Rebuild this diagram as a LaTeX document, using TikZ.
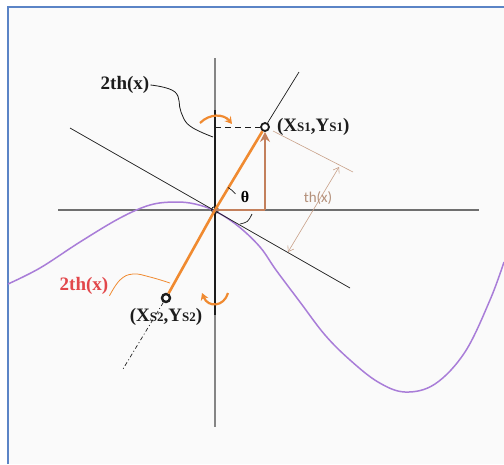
\documentclass[tikz,border=0pt]{standalone}
\usepackage{fontspec}
\setmainfont{Liberation Serif}
\newfontfamily\thfont{Carlito}
\usetikzlibrary{arrows.meta, positioning, calc}
\definecolor{SMframe}{HTML}{5B84C6}
\definecolor{SMpaper}{HTML}{FAFAFA}
\definecolor{SMaxis}{HTML}{6F6F6F}
\definecolor{SMink}{HTML}{1C1C1C}
\definecolor{SMorange}{HTML}{F08A30}
\definecolor{SMbrown}{HTML}{C3805C}
\definecolor{SMtan}{HTML}{C8A088}
\definecolor{SMviolet}{HTML}{A97DD8}
\definecolor{SMred}{HTML}{E2474B}
\newcommand{\smsmall}[1]{{\fontsize{13}{13}\selectfont #1}}
\tikzset{
  smaxis/.style={draw=SMaxis, line width=1.8pt},
  smpole/.style={draw=SMaxis!85, line width=1.1pt},
  smbar/.style={draw=SMink, line width=2.6pt},
  smthin/.style={draw=SMink, line width=0.7pt},
  smdash/.style={smthin, dash pattern=on 4pt off 2.5pt on 1pt off 2.5pt},
  smlead/.style={draw=SMink, line width=0.8pt},
  smleado/.style={draw=SMorange, line width=0.8pt},
  smrod/.style={draw=SMorange, line width=2.6pt},
  smvec/.style={-{Stealth[length=10pt,width=10pt]}, draw=SMbrown, line width=2.6pt},
  smdim/.style={{Straight Barb[length=5pt,width=7pt]}-{Straight Barb[length=5pt,width=7pt]},
    draw=SMtan, line width=0.6pt},
  smrot/.style={-{Stealth[length=7pt,width=8pt]}, draw=SMorange, line width=2.2pt},
  smwave/.style={draw=SMviolet, line width=1.5pt},
  smpt/.style={circle, draw=SMink, fill=white, line width=1.8pt, inner sep=0pt, minimum size=8pt},
  smorig/.style={circle, draw=SMink, line width=0.8pt, inner sep=0pt, minimum size=7pt},
  smlbl/.style={font=\fontsize{19}{21}\selectfont\bfseries, text=SMink, inner sep=1pt},
}
\begin{document}
\begin{tikzpicture}[x=1pt, y=-1pt, node distance=8pt]
  \useasboundingbox (0,0) rectangle (504,464);
  %% Frame
  \fill[SMpaper] (8,7) rectangle (504,464);
  \draw[draw=SMframe, line width=2pt] (8,464) -- (8,7) -- (504,7);
  %% Axes
  \coordinate (O) at (215,210);
  \coordinate (xl) at (58,210);
  \coordinate (xr) at (479,210);
  \coordinate (yt) at (215,58);
  \coordinate (yb) at (215,427);
  \coordinate (bartop) at (215,110);
  \coordinate (barbot) at (215,315);
  \draw[smaxis] (xl) -- (xr);
  \draw[smpole] (yt) -- (yb);
  \draw[smbar] (bartop) -- (barbot);
  %% Curve
  \draw[smwave] plot[smooth, tension=0.6] coordinates {(8,284) (40,268) (80,242) (120,218)
    (150,205) (175,202) (195,204) (215,211) (238,226) (260,247) (276,270) (300,302)
    (325,335) (350,360) (378,382) (405,392) (435,384) (465,352) (490,300) (504,262)};
  %% Tangent and normal
  \coordinate (tl) at (70,128);
  \coordinate (tr) at (350,288);
  \coordinate (nt) at (299,72);
  \coordinate (nb) at (123,369);
  \draw[smthin] (tl) -- (tr);
  \node[smpt] (s1) at (265,127) {};
  \node[smpt, line width=2.4pt] (s2) at (166,298) {};
  \node[smorig] (o) at (O) {};
  \draw[smthin] (s1) -- (nt);
  \draw[smdash] (s2) -- (nb);
  %% Offset
  \coordinate (dtop) at (215,127);
  \coordinate (foot) at (265,210);
  \draw[smthin, dash pattern=on 6pt off 4pt] (dtop) -- (s1);
  \draw[smrod] (s2) -- (O) -- (s1);
  \draw[draw=SMbrown, line width=2.6pt] (O) -- (foot);
  \draw[smvec] (foot) -- (s1);
  %% Thickness
  \coordinate (el) at (273,131);
  \coordinate (er) at (353,172);
  \coordinate (da) at (339,167);
  \coordinate (db) at (288,252);
  \draw[draw=SMtan, line width=0.6pt] (el) -- (er);
  \draw[smdim] (da) -- (db);
  \node[font=\thfont\fontsize{15}{17}\selectfont, text=SMtan!90!black] (thx) at (318,198) {th(x)};
  %% Angles
  \draw[smthin] ($(O)+(-60:26)$) arc[start angle=-60, end angle=-38, radius=26];
  \draw[smthin] (240,224) .. controls (248,222) .. (252,214);
  \node[font=\fontsize{16}{18}\selectfont\bfseries] (ang) at (245,197) {θ};
  %% Turning
  \draw[smrot] (200,123) .. controls (210,113) and (224,114) .. (232,124);
  \draw[smrot] (228,293) .. controls (224,307) and (208,308) .. (202,293);
  %% Labels
  \node[smlbl, right=6pt of s1] (s1lbl) {(X\smsmall{S1},Y\smsmall{S1})};
  \node[smlbl, below=4pt of s2] (s2lbl) {(X\smsmall{S2},Y\smsmall{S2})};
  \node[smlbl] (thA) at (125,85) {2th(x)};
  \node[smlbl, text=SMred] (thB) at (84,286) {2th(x)};
  \coordinate (lA) at (213,137);
  \coordinate (lB) at (170,283);
  \draw[smlead] plot[smooth, tension=0.7] coordinates {(thA.east) (175,92) (181,112) (190,126) (lA)};
  \draw[smleado] plot[smooth, tension=0.7] coordinates {(thB.south east) (120,280) (133,274) (150,277) (lB)};
\end{tikzpicture}
\end{document}
